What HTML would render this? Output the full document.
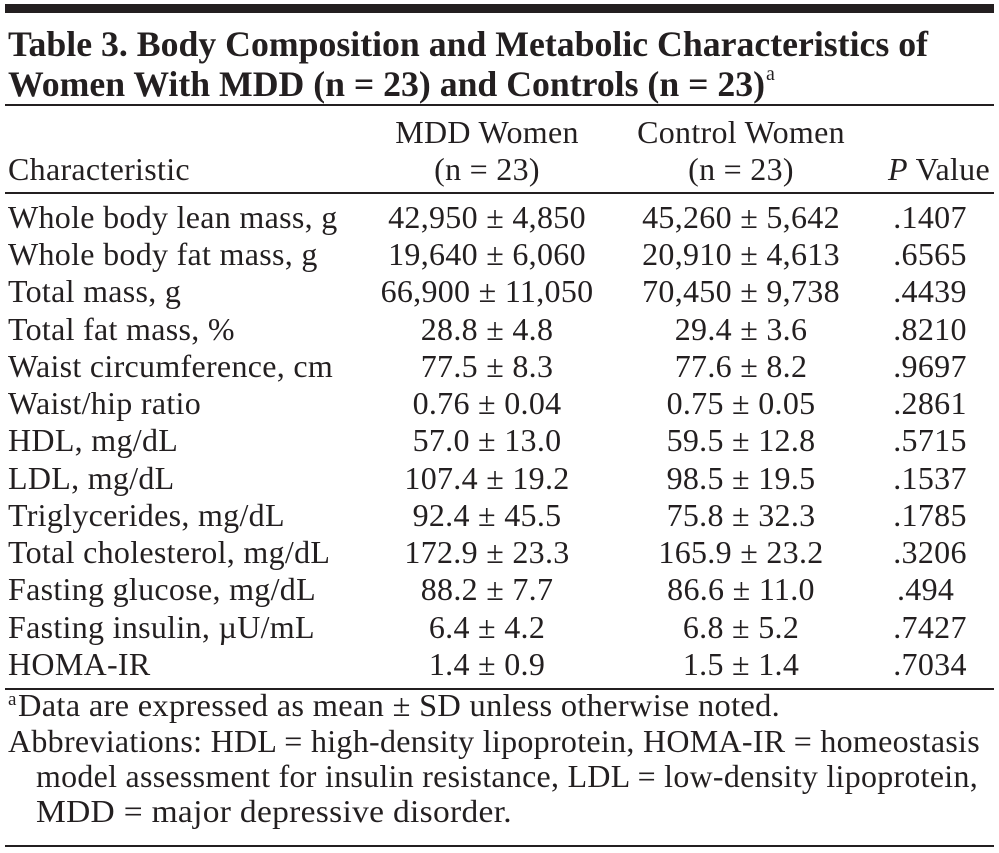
<!DOCTYPE html>
<html><head><meta charset="utf-8"><style>
html,body{margin:0;padding:0;background:#fff;}
svg{display:block}
text{font-family:"Liberation Serif",serif;fill:#231f20;font-size:32px;letter-spacing:0.3px}
.b{font-weight:bold;font-size:36px;letter-spacing:0}
.m{text-anchor:middle}
</style></head><body>
<svg width="999" height="853" viewBox="0 0 999 853">
<rect x="5" y="4" width="989" height="9" fill="#231f20"/>
<text class="b" x="8" y="56" textLength="920" lengthAdjust="spacingAndGlyphs">Table 3. Body Composition and Metabolic Characteristics of</text>
<text class="b" x="8" y="96" textLength="757" lengthAdjust="spacingAndGlyphs">Women With MDD (n = 23) and Controls (n = 23)</text>
<text x="766" y="80" style="font-size:20px">a</text>
<rect x="5" y="104" width="989" height="2" fill="#231f20"/>
<text class="m" x="487" y="143">MDD Women</text>
<text class="m" x="487" y="180">(n = 23)</text>
<text class="m" x="741" y="143">Control Women</text>
<text class="m" x="741" y="180">(n = 23)</text>
<text x="8" y="180">Characteristic</text>
<text x="990" y="180" style="text-anchor:end"><tspan font-style="italic">P</tspan> Value</text>
<rect x="5" y="192" width="989" height="2" fill="#231f20"/>
<g>
<text x="8" y="228">Whole body lean mass, g</text><text class="m" x="487" y="228">42,950 ± 4,850</text><text class="m" x="741" y="228">45,260 ± 5,642</text><text class="m" x="930" y="228">.1407</text>
<text x="8" y="265">Whole body fat mass, g</text><text class="m" x="487" y="265">19,640 ± 6,060</text><text class="m" x="741" y="265">20,910 ± 4,613</text><text class="m" x="930" y="265">.6565</text>
<text x="8" y="302">Total mass, g</text><text class="m" x="487" y="302">66,900 ± 11,050</text><text class="m" x="741" y="302">70,450 ± 9,738</text><text class="m" x="930" y="302">.4439</text>
<text x="8" y="340">Total fat mass, %</text><text class="m" x="487" y="340">28.8 ± 4.8</text><text class="m" x="741" y="340">29.4 ± 3.6</text><text class="m" x="930" y="340">.8210</text>
<text x="8" y="377">Waist circumference, cm</text><text class="m" x="487" y="377">77.5 ± 8.3</text><text class="m" x="741" y="377">77.6 ± 8.2</text><text class="m" x="930" y="377">.9697</text>
<text x="8" y="414">Waist/hip ratio</text><text class="m" x="487" y="414">0.76 ± 0.04</text><text class="m" x="741" y="414">0.75 ± 0.05</text><text class="m" x="930" y="414">.2861</text>
<text x="8" y="451">HDL, mg/dL</text><text class="m" x="487" y="451">57.0 ± 13.0</text><text class="m" x="741" y="451">59.5 ± 12.8</text><text class="m" x="930" y="451">.5715</text>
<text x="8" y="489">LDL, mg/dL</text><text class="m" x="487" y="489">107.4 ± 19.2</text><text class="m" x="741" y="489">98.5 ± 19.5</text><text class="m" x="930" y="489">.1537</text>
<text x="8" y="526">Triglycerides, mg/dL</text><text class="m" x="487" y="526">92.4 ± 45.5</text><text class="m" x="741" y="526">75.8 ± 32.3</text><text class="m" x="930" y="526">.1785</text>
<text x="8" y="563">Total cholesterol, mg/dL</text><text class="m" x="487" y="563">172.9 ± 23.3</text><text class="m" x="741" y="563">165.9 ± 23.2</text><text class="m" x="930" y="563">.3206</text>
<text x="8" y="600">Fasting glucose, mg/dL</text><text class="m" x="487" y="600">88.2 ± 7.7</text><text class="m" x="741" y="600">86.6 ± 11.0</text><text x="897" y="600">.494</text>
<text x="8" y="638">Fasting insulin, µU/mL</text><text class="m" x="487" y="638">6.4 ± 4.2</text><text class="m" x="741" y="638">6.8 ± 5.2</text><text class="m" x="930" y="638">.7427</text>
<text x="8" y="675">HOMA-IR</text><text class="m" x="487" y="675">1.4 ± 0.9</text><text class="m" x="741" y="675">1.5 ± 1.4</text><text class="m" x="930" y="675">.7034</text>
</g>
<rect x="5" y="688" width="989" height="2" fill="#231f20"/>
<text x="8" y="705" style="font-size:19px">a</text>
<text x="18" y="716" textLength="762" lengthAdjust="spacingAndGlyphs">Data are expressed as mean ± SD unless otherwise noted.</text>
<text x="8" y="752" textLength="972" lengthAdjust="spacingAndGlyphs">Abbreviations: HDL = high-density lipoprotein, HOMA-IR = homeostasis</text>
<text x="36" y="787" textLength="942" lengthAdjust="spacingAndGlyphs">model assessment for insulin resistance, LDL = low-density lipoprotein,</text>
<text x="36" y="822" textLength="476" lengthAdjust="spacingAndGlyphs">MDD = major depressive disorder.</text>
<rect x="5" y="845" width="989" height="2" fill="#231f20"/>
</svg>
</body></html>
